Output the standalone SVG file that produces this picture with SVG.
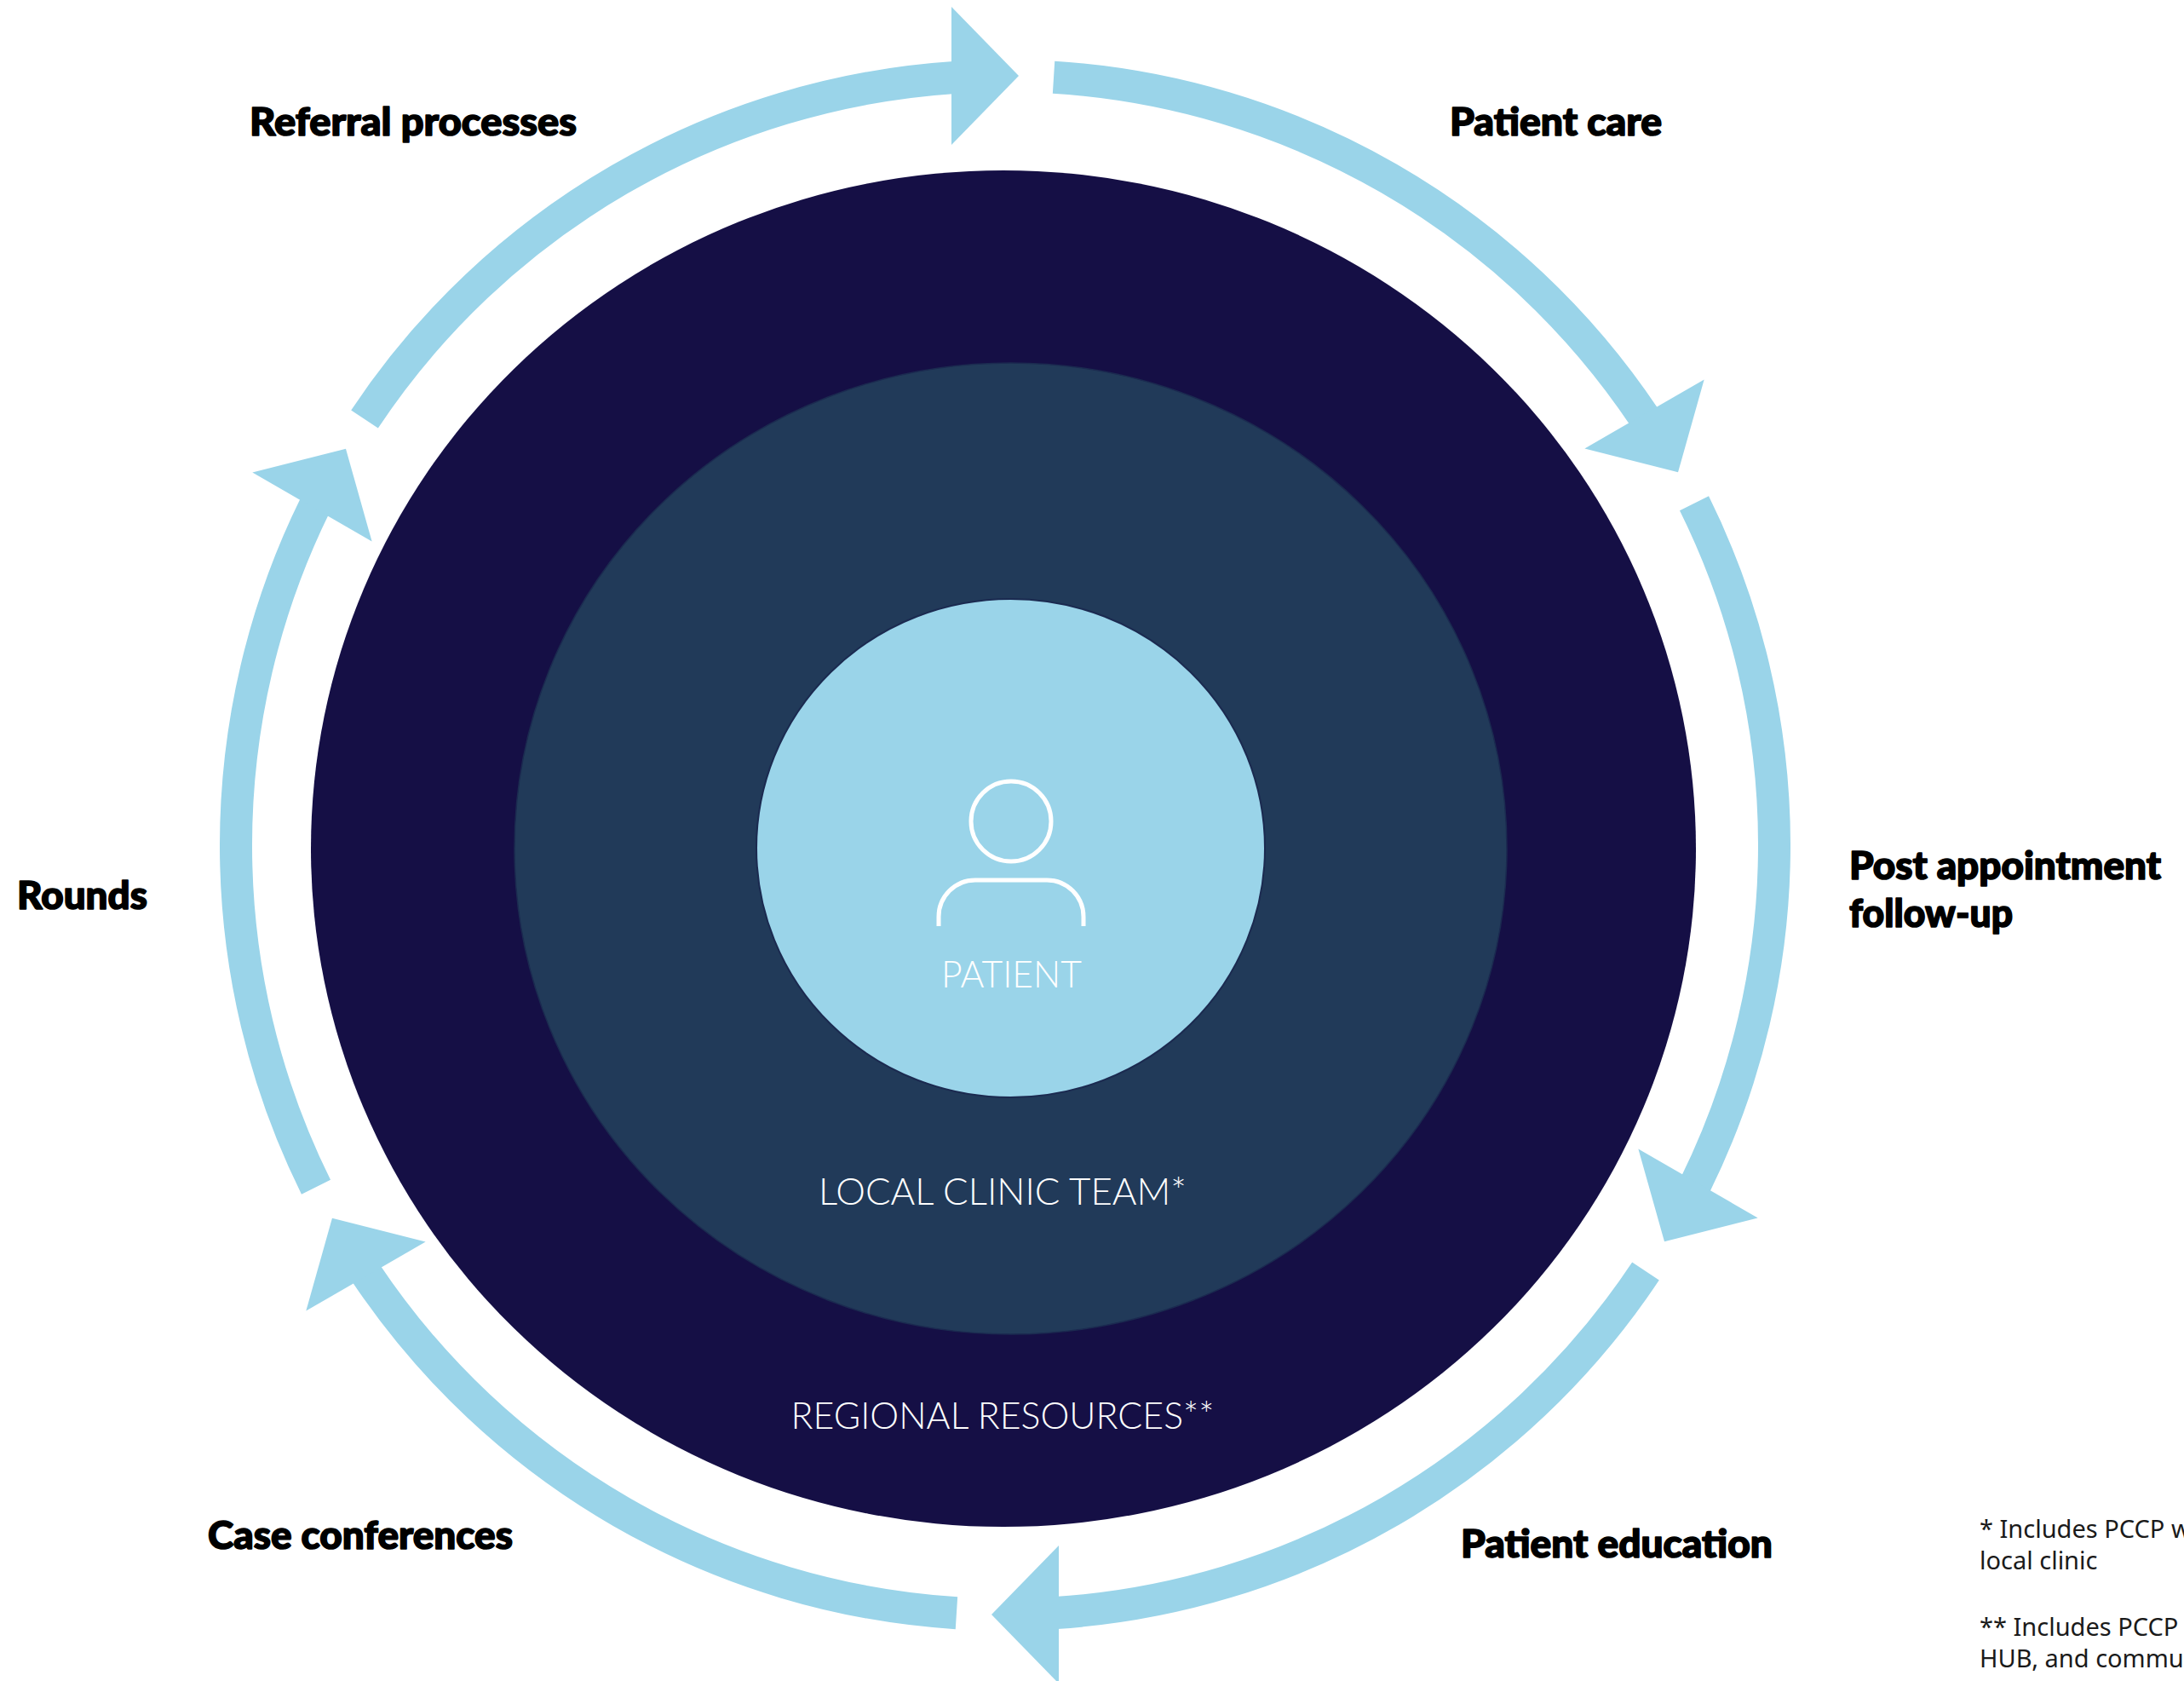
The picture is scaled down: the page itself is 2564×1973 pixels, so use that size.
<svg xmlns="http://www.w3.org/2000/svg" width="2564" height="1973" viewBox="0 0 2564 1973">
<defs>
<style>
.ring{fill:none;stroke:#9AD4E9;stroke-width:38;stroke-linecap:butt}
.head{fill:#9AD4E9}
.lbl{font-family:Lato,"Liberation Sans",sans-serif;font-weight:900;font-size:45px;fill:#000;stroke:#000;stroke-width:1.6;stroke-linejoin:round}
.in{font-family:Lato,"Open Sans",sans-serif;font-weight:300;font-size:43px;fill:#fff;text-anchor:middle}
.note{font-family:"Noto Sans","Open Sans",sans-serif;font-size:29px;fill:#1a1a1a}
</style>
<g id="arrowShape">
<path class="ring" d="M428.04,491.99 A903,903 0 0 1 1120.16,91"/>
<polygon class="head" points="1117,8 1196,89 1117,170"/>
</g>
</defs>
<rect width="2564" height="1973" fill="#fff"/>
<g id="regional">
<ellipse cx="1178" cy="996" rx="813" ry="796" fill="#150F45"/>
<text class="in" x="1177" y="1677" textLength="497" lengthAdjust="spacingAndGlyphs">REGIONAL RESOURCES**</text>
</g>
<g id="local">
<ellipse cx="1186.5" cy="996" rx="582.5" ry="570" fill="#213A59" stroke="#1B2A50" stroke-width="1.5"/>
<text class="in" x="1177" y="1414" textLength="432" lengthAdjust="spacingAndGlyphs">LOCAL CLINIC TEAM*</text>
</g>
<g id="patient">
<ellipse cx="1186.5" cy="995.5" rx="298.5" ry="292.5" fill="#9AD4E9" stroke="#1B2A50" stroke-width="2"/>
<circle cx="1187" cy="964" r="47" fill="none" stroke="#fff" stroke-width="5"/>
<path d="M1102,1087 V1076 A43,43 0 0 1 1145,1033 H1229 A43,43 0 0 1 1272,1076 V1087" fill="none" stroke="#fff" stroke-width="5"/>
<text class="in" x="1187.5" y="1159" textLength="165" lengthAdjust="spacingAndGlyphs">PATIENT</text>
</g>
<g id="connectors">
<use href="#arrowShape"/>
<use href="#arrowShape" transform="rotate(60 1180 992)"/>
<use href="#arrowShape" transform="rotate(120 1180 992)"/>
<use href="#arrowShape" transform="rotate(180 1180 992)"/>
<use href="#arrowShape" transform="rotate(240 1180 992)"/>
<use href="#arrowShape" transform="rotate(300 1180 992)"/>
</g>
<g id="referral"><text class="lbl" x="293" y="159" textLength="384" lengthAdjust="spacingAndGlyphs">Referral processes</text></g>
<g id="patientcare"><text class="lbl" x="1702" y="159" textLength="249" lengthAdjust="spacingAndGlyphs">Patient care</text></g>
<g id="followup"><text class="lbl" x="2171" y="1032" textLength="366" lengthAdjust="spacingAndGlyphs">Post appointment</text><text class="lbl" x="2171" y="1088" textLength="192" lengthAdjust="spacingAndGlyphs">follow-up</text></g>
<g id="education"><text class="lbl" x="1715" y="1828" textLength="366" lengthAdjust="spacingAndGlyphs">Patient education</text></g>
<g id="conferences"><text class="lbl" x="244" y="1818" textLength="358" lengthAdjust="spacingAndGlyphs">Case conferences</text></g>
<g id="rounds"><text class="lbl" x="20" y="1067" textLength="153" lengthAdjust="spacingAndGlyphs">Rounds</text></g>
<g id="notes">
<text class="note" x="2324" y="1805">* Includes PCCP w</text>
<text class="note" x="2324" y="1842">local clinic</text>
<text class="note" x="2324" y="1920">** Includes PCCP v</text>
<text class="note" x="2324" y="1957">HUB, and commun</text>
</g>
</svg>
